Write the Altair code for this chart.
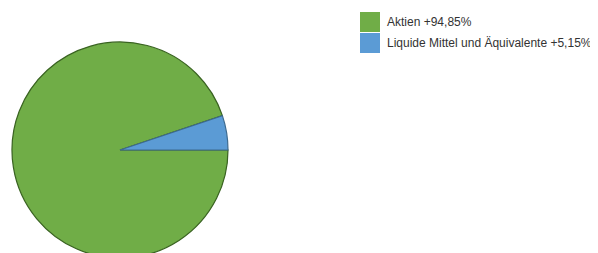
import math
import altair as alt
import pandas as pd

categories = ["Aktien +94,85%", "Liquide Mittel und Äquivalente +5,15%"]
values = [94.85, 5.15]
order = [0, 1]
colors = ["#70AD47", "#5B9BD5"]
strokes = ["#3A6322", "#3D6A8F"]

df = pd.DataFrame({"category": categories, "value": values, "order": order})

base = alt.Chart(df).encode(
    theta=alt.Theta("value:Q", stack=True, scale=alt.Scale(range=[math.pi / 2, math.pi / 2 + 2 * math.pi])),
    order=alt.Order("order:Q"),
)

pie = base.mark_arc(outerRadius=108, strokeWidth=1.2).encode(
    x=alt.value(112),
    y=alt.value(142),
    color=alt.Color(
        "category:N",
        sort=categories,
        scale=alt.Scale(domain=categories, range=colors),
        legend=alt.Legend(
            title=None,
            orient="none",
            legendX=352,
            legendY=4,
            padding=0,
            symbolType="square",
            symbolSize=400,
            symbolStrokeWidth=0,
            rowPadding=1,
            labelOffset=7,
            labelFont="Liberation Sans",
            labelFontSize=12,
            labelColor="#333333",
            labelLimit=400,
        ),
    ),
    stroke=alt.Stroke(
        "category:N",
        scale=alt.Scale(domain=categories, range=strokes),
        legend=None,
    ),
)

chart = pie.properties(
    width=582, height=245, autosize=alt.AutoSizeParams(type="none"), padding=0
).configure_view(stroke=None)

chart.save("out.html", embed_options={"renderer": "svg", "actions": False})
